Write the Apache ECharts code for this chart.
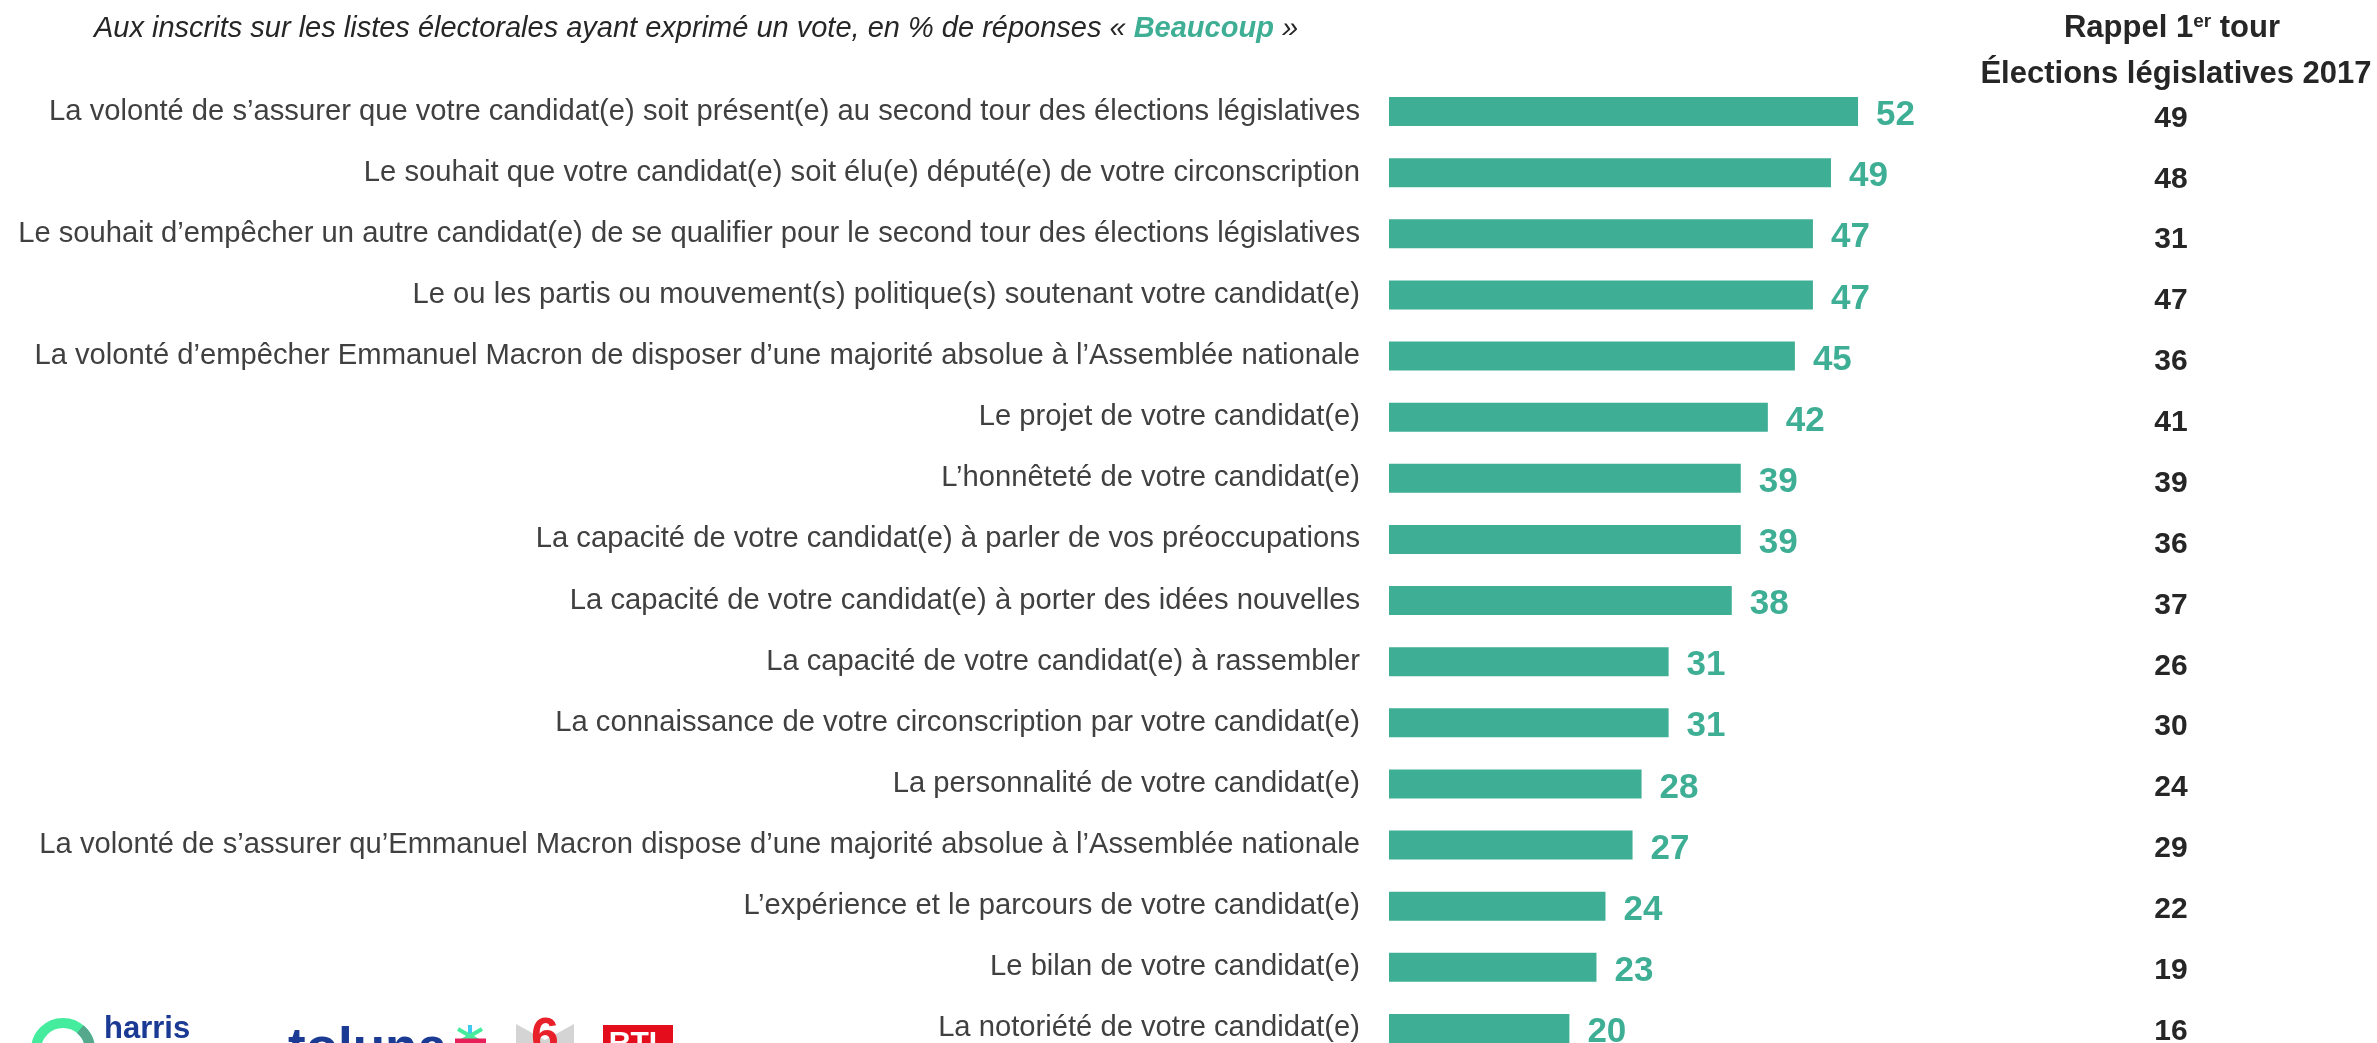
<!DOCTYPE html>
<html>
<head>
<meta charset="utf-8">
<script src="https://cdn.jsdelivr.net/npm/echarts@6/dist/echarts.min.js"></script>
<style>
  html, body { margin: 0; padding: 0; background: #fff; }
  #chart { width: 2377px; height: 1043px; }
</style>
</head>
<body>
<div id="chart"></div>
<script>
const categories = [
  'La volonté de s’assurer que votre candidat(e) soit présent(e) au second tour des élections législatives',
  'Le souhait que votre candidat(e) soit élu(e) député(e) de votre circonscription',
  'Le souhait d’empêcher un autre candidat(e) de se qualifier pour le second tour des élections législatives',
  'Le ou les partis ou mouvement(s) politique(s) soutenant votre candidat(e)',
  'La volonté d’empêcher Emmanuel Macron de disposer d’une majorité absolue à l’Assemblée nationale',
  'Le projet de votre candidat(e)',
  'L’honnêteté de votre candidat(e)',
  'La capacité de votre candidat(e) à parler de vos préoccupations',
  'La capacité de votre candidat(e) à porter des idées nouvelles',
  'La capacité de votre candidat(e) à rassembler',
  'La connaissance de votre circonscription par votre candidat(e)',
  'La personnalité de votre candidat(e)',
  'La volonté de s’assurer qu’Emmanuel Macron dispose d’une majorité absolue à l’Assemblée nationale',
  'L’expérience et le parcours de votre candidat(e)',
  'Le bilan de votre candidat(e)',
  'La notoriété de votre candidat(e)'
]
const beaucoup = [52, 49, 47, 47, 45, 42, 39, 39, 38, 31, 31, 28, 27, 24, 23, 20]
const rappel2017 = [49, 48, 31, 47, 36, 41, 39, 36, 37, 26, 30, 24, 29, 22, 19, 16]

const TEAL = '#3eae94'
const DARK = '#262626'
const FONT = '"Liberation Sans", Arial, sans-serif'

const myChart = echarts.init(document.getElementById('chart'))

const option = {
  backgroundColor: '#fff',
  animation: false,
  textStyle: { fontFamily: FONT },
  grid: [
    { left: 1389, top: 81, width: 902, height: 978, outerBoundsMode: 'none' },
    // colonne "Rappel" : légèrement décalée vers le bas comme sur l'original
    { left: 1389, top: 88, width: 782, height: 974, outerBoundsMode: 'none' }
  ],
  xAxis: [
    { type: 'value', min: 0, max: 100, show: false, gridIndex: 0 },
    { type: 'value', min: 0, max: 100, show: false, gridIndex: 1 }
  ],
  yAxis: [
    {
      type: 'category',
      gridIndex: 0,
      inverse: true,
      data: categories,
      axisLine: { show: false },
      axisTick: { show: false },
      axisLabel: {
        color: '#404040',
        fontSize: 29.2,
        fontFamily: FONT,
        margin: 29
      }
    },
    {
      type: 'category',
      gridIndex: 1,
      inverse: true,
      position: 'right',
      data: rappel2017.map(String),
      axisLine: { show: false },
      axisTick: { show: false },
      axisLabel: {
        color: DARK,
        fontSize: 30,
        fontWeight: 'bold',
        fontFamily: FONT,
        align: 'center',
        margin: 0
      }
    }
  ],
  series: [
    {
      type: 'bar',
      xAxisIndex: 0,
      yAxisIndex: 0,
      data: beaucoup,
      barWidth: 29,
      itemStyle: { color: TEAL },
      label: {
        show: true,
        position: 'right',
        distance: 18,
        offset: [0, 4],
        color: TEAL,
        fontSize: 35,
        fontWeight: 'bold',
        fontFamily: FONT
      }
    }
  ],
  graphic: [
    {
      type: 'text',
      x: 94,
      y: 29,
      style: {
        text: '{i|Aux inscrits sur les listes électorales ayant exprimé un vote, en % de réponses « }{b|Beaucoup}{i| »}',
        verticalAlign: 'middle',
        rich: {
          i: { fontSize: 29, fontStyle: 'italic', fill: DARK, fontFamily: FONT },
          b: { fontSize: 29, fontStyle: 'italic', fontWeight: 'bold', fill: TEAL, fontFamily: FONT }
        }
      }
    },
    {
      type: 'text',
      x: 2172,
      y: 28,
      style: {
        text: '{a|Rappel 1}{s|er}{a| tour}',
        align: 'center',
        verticalAlign: 'middle',
        rich: {
          a: { fontSize: 31, fontWeight: 'bold', fill: DARK, fontFamily: FONT },
          s: { fontSize: 19, fontWeight: 'bold', fill: DARK, fontFamily: FONT, verticalAlign: 'top', padding: [0, 0, 12, 0] }
        }
      }
    },
    {
      type: 'text',
      x: 2176,
      y: 74,
      style: {
        text: 'Élections législatives 2017',
        align: 'center',
        verticalAlign: 'middle',
        fontSize: 31,
        fontWeight: 'bold',
        fill: DARK,
        fontFamily: FONT
      }
    },
    // logos (bas gauche, coupés par le bord)
    {
      type: 'arc',
      shape: { cx: 63, cy: 1050, r: 27, startAngle: Math.PI, endAngle: Math.PI * 2 },
      style: { stroke: '#45ec9e', lineWidth: 10, fill: null }
    },
    {
      type: 'arc',
      shape: { cx: 63, cy: 1050, r: 27, startAngle: Math.PI * 1.72, endAngle: Math.PI * 2 },
      style: { stroke: '#56a88d', lineWidth: 10, fill: null }
    },
    {
      type: 'text',
      x: 104,
      y: 1014,
      style: { text: 'harris', fontSize: 31, fontWeight: 'bold', fill: '#1b3a94', fontFamily: FONT, verticalAlign: 'top' }
    },
    {
      type: 'text',
      x: 288,
      y: 1024,
      style: { text: 'toluna', fontSize: 53, fontWeight: 'bold', fill: '#1b3a94', fontFamily: FONT, verticalAlign: 'top' }
    },
    {
      type: 'line',
      shape: { x1: 470, y1: 1025, x2: 470, y2: 1043 },
      style: { stroke: '#3ec9f0', lineWidth: 4 }
    },
    {
      type: 'line',
      shape: { x1: 458, y1: 1029, x2: 482, y2: 1043 },
      style: { stroke: '#45ec9e', lineWidth: 4 }
    },
    {
      type: 'line',
      shape: { x1: 482, y1: 1029, x2: 458, y2: 1043 },
      style: { stroke: '#45ec9e', lineWidth: 4 }
    },
    {
      type: 'line',
      shape: { x1: 455, y1: 1041, x2: 486, y2: 1041 },
      style: { stroke: '#e8205a', lineWidth: 5 }
    },
    {
      type: 'polygon',
      shape: { points: [[516, 1043], [516, 1024], [545, 1040], [574, 1024], [574, 1043]] },
      style: { fill: '#d4d4d4' }
    },
    {
      type: 'text',
      x: 545,
      y: 1064,
      style: { text: '6', fontSize: 50, fontWeight: 'bold', fill: '#e8202a', fontFamily: FONT, align: 'center', verticalAlign: 'bottom' }
    },
    {
      type: 'rect',
      shape: { x: 603, y: 1025, width: 70, height: 18 },
      style: { fill: '#e30d1c' }
    },
    {
      type: 'text',
      x: 638,
      y: 1029,
      style: { text: 'RTL', fontSize: 30, fontWeight: 'bold', fill: '#fff', fontFamily: FONT, align: 'center', verticalAlign: 'top' }
    }
  ]
}

myChart.setOption(option)
</script>
</body>
</html>
